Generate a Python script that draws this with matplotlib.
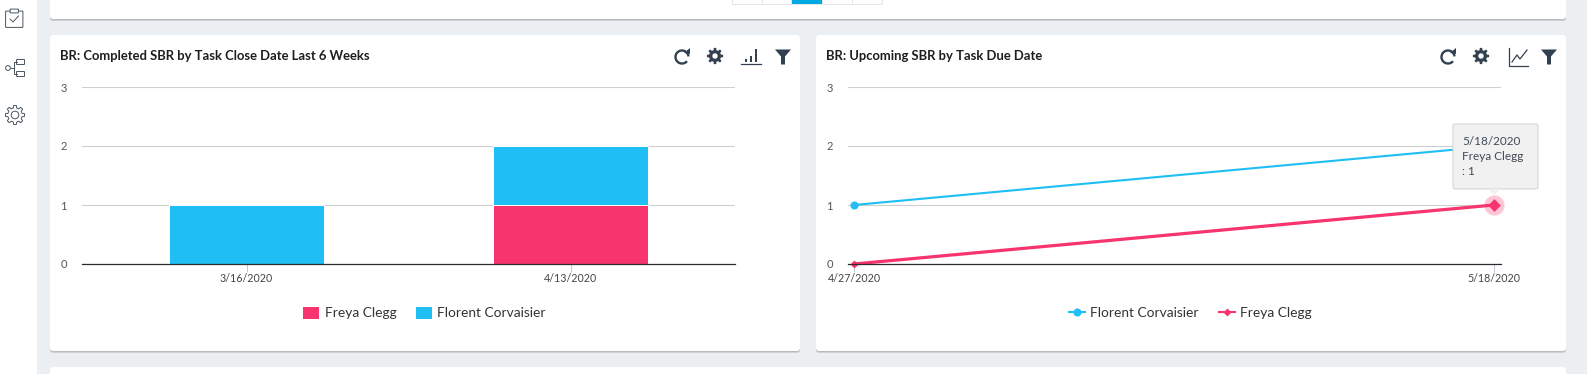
#!/usr/bin/env python3
"""Dashboard screenshot: completed and upcoming SBR cards."""

import matplotlib

matplotlib.use("Agg")
import matplotlib.pyplot as plt
import numpy as np
from matplotlib.lines import Line2D
from matplotlib.patches import Arc, Circle, FancyBboxPatch, Polygon, Rectangle

WIDTH, HEIGHT = 1587, 374
BLUE = "#1FBEF4"
PINK = "#F7346D"
DARK = "#33404F"
SIDE = "#4A5560"
GRID = "#CFCFCF"
PAGE = "#ECEFF2"

BAR_TITLE = "BR: Completed SBR by Task Close Date Last 6 Weeks"
BAR_DATES = ["3/16/2020", "4/13/2020"]
BAR_FREYA = [0, 1]
BAR_FLORENT = [1, 1]

LINE_TITLE = "BR: Upcoming SBR by Task Due Date"
LINE_DATES = ["4/27/2020", "5/18/2020"]
LINE_FLORENT = [1, 2]
LINE_FREYA = [0, 1]

Y_TICKS = [0, 1, 2, 3]
TOOLTIP_LINES = ["5/18/2020", "Freya Clegg", ": 1"]

plt.rcParams["font.family"] = ["Lato", "DejaVu Sans"]


def px_axes(figure, left, top, right, bottom, **kwargs):
    return figure.add_axes(
        [
            left / WIDTH,
            1 - bottom / HEIGHT,
            (right - left) / WIDTH,
            (bottom - top) / HEIGHT,
        ],
        **kwargs,
    )


def card(axis, left, top, right, bottom):
    for offset, color in ((2.0, "#B9BEC3"), (1.0, "#A9AEB3")):
        axis.add_patch(
            FancyBboxPatch(
                (left + 3, top + 3 + offset),
                right - left - 6,
                bottom - top - 6,
                boxstyle="round,pad=3",
                fc=color,
                ec="none",
                alpha=0.6,
            )
        )
    axis.add_patch(
        FancyBboxPatch(
            (left + 3, top + 3),
            right - left - 6,
            bottom - top - 6,
            boxstyle="round,pad=3",
            fc="white",
            ec="none",
        )
    )


def refresh_icon(axis, x, y):
    axis.add_patch(
        Arc((x, y), 13, 13, theta1=-320, theta2=-5, ec=DARK, lw=1.7)
    )
    axis.add_patch(
        Polygon(
            [(x + 2, y - 4), (x + 8, y - 9), (x + 8, y - 3)], fc=DARK, ec="none"
        )
    )


def gear_points(x, y, inner, outer, teeth=8):
    points = []
    step = 2 * np.pi / teeth
    for index in range(teeth):
        mid = index * step
        for angle, radius in (
            (mid - 0.31 * step, inner),
            (mid - 0.18 * step, outer),
            (mid + 0.18 * step, outer),
            (mid + 0.31 * step, inner),
        ):
            points.append((x + radius * np.cos(angle), y + radius * np.sin(angle)))
    return points


def gear_icon(axis, x, y):
    axis.add_patch(Polygon(gear_points(x, y, 6.0, 8.2), fc=DARK, ec="none"))
    axis.add_patch(Circle((x, y), 2.7, fc="white", ec="none"))


def side_gear_icon(axis, x, y):
    axis.add_patch(Polygon(gear_points(x, y, 7.2, 9.6), fc="none", ec=SIDE, lw=0.7))
    axis.add_patch(Circle((x, y), 3.8, fc="none", ec=SIDE, lw=0.7))


def filter_icon(axis, x, y):
    axis.add_patch(
        Polygon(
            [
                (x - 8, y - 7),
                (x + 8, y - 7),
                (x + 2, y),
                (x + 2, y + 8),
                (x - 2, y + 8),
                (x - 2, y),
            ],
            fc=DARK,
            ec="none",
        )
    )


def bars_icon(axis, x, y):
    axis.add_line(Line2D([x - 10, x + 10], [y + 7, y + 7], color=DARK, lw=0.9))
    for dx, height in ((-5, 3), (0, 6), (5, 13)):
        axis.add_patch(Rectangle((x + dx - 1, y + 5 - height), 2, height, fc=DARK))


def line_icon(axis, x, y):
    axis.add_line(
        Line2D(
            [x - 9, x - 9, x + 10], [y - 9, y + 9, y + 9], color=DARK, lw=0.9
        )
    )
    axis.add_line(
        Line2D(
            [x - 6, x - 1, x + 2, x + 9],
            [y + 5, y - 2, y + 2, y - 7],
            color=DARK,
            lw=0.9,
        )
    )


def style_axis(axis, xticks, xlabels):
    axis.set_ylim(0, 3)
    axis.set_yticks(Y_TICKS)
    axis.set_xticks(xticks)
    axis.set_xticklabels(xlabels)
    axis.grid(axis="y", color=GRID, lw=0.8)
    axis.set_axisbelow(True)
    axis.patch.set_alpha(0)
    for side in ("top", "left", "right"):
        axis.spines[side].set_visible(False)
    axis.spines["bottom"].set_color("#2B2B2B")
    axis.spines["bottom"].set_linewidth(0.9)
    axis.tick_params(axis="y", length=0, pad=11, labelsize=8, labelcolor="#555555")
    axis.tick_params(
        axis="x",
        length=6,
        width=0.7,
        color="#C0CBD6",
        pad=0.8,
        labelsize=7.7,
        labelcolor="#444444",
    )


figure = plt.figure(figsize=(WIDTH / 100, HEIGHT / 100), dpi=100, facecolor=PAGE)

back = px_axes(figure, 0, 0, WIDTH, HEIGHT, zorder=0)
back.set_xlim(0, WIDTH)
back.set_ylim(HEIGHT, 0)
back.axis("off")
back.add_patch(Rectangle((0, 0), 37, HEIGHT, fc="white", ec="none"))
card(back, 50, -20, 1566, 19)
card(back, 50, 35, 800, 351)
card(back, 816, 35, 1566, 351)
card(back, 50, 367, 1566, 420)

# pagination strip on the card above
page_edges = [732, 762, 791, 822, 852, 882]
for start, end in zip(page_edges[:-1], page_edges[1:]):
    active = start == 791
    back.add_patch(
        Rectangle(
            (start, -2),
            end - start,
            5.5,
            fc="#00A9E0" if active else "white",
            ec="#E4E7EA",
            lw=0.7,
        )
    )

# sidebar icons
back.add_patch(
    FancyBboxPatch(
        (6, 11.5), 16.5, 15.5, boxstyle="round,pad=0.4", fc="none", ec=SIDE, lw=0.7
    )
)
back.add_patch(
    FancyBboxPatch(
        (10.5, 9.5), 7.5, 3, boxstyle="round,pad=0.4", fc="white", ec=SIDE, lw=0.7
    )
)
back.add_line(Line2D([10, 13, 18.5], [19, 22, 16], color=SIDE, lw=0.7))
back.add_patch(Circle((8, 68), 2.4, fc="none", ec=SIDE, lw=0.7))
for y in (62, 74):
    back.add_patch(
        FancyBboxPatch(
            (17, y - 2), 7, 4, boxstyle="round,pad=0.5", fc="none", ec=SIDE, lw=0.7
        )
    )
back.add_line(
    Line2D([10.5, 14, 14, 17], [68, 68, 62, 62], color=SIDE, lw=0.7)
)
back.add_line(Line2D([14, 14, 17], [68, 74, 74], color=SIDE, lw=0.7))
side_gear_icon(back, 15, 115)

back.text(60, 56, BAR_TITLE, fontsize=9.35, fontweight="bold", color="#1E1E1E", va="center")
back.text(826, 56, LINE_TITLE, fontsize=9.35, fontweight="bold", color="#1E1E1E", va="center")
for x_refresh, x_gear, x_filter in ((682, 715, 783), (1448, 1481, 1549)):
    refresh_icon(back, x_refresh, 57)
    gear_icon(back, x_gear, 56)
    filter_icon(back, x_filter, 56.5)
bars_icon(back, 751, 57)
line_icon(back, 1518, 57)

# bar card
bar_axis = px_axes(figure, 82, 87, 735, 264, zorder=2)
bar_x = np.arange(len(BAR_DATES))
bar_axis.bar(bar_x, BAR_FREYA, width=0.478, color=PINK, edgecolor="white", lw=0.7)
bar_axis.bar(
    bar_x,
    BAR_FLORENT,
    width=0.478,
    bottom=BAR_FREYA,
    color=BLUE,
    edgecolor="white",
    lw=0.7,
)
bar_span = 324
bar_axis.set_xlim(-164.5 / bar_span, 1 + 164.5 / bar_span)
style_axis(bar_axis, bar_x, BAR_DATES)
bar_handles = [
    Rectangle((0, 0), 1, 1, fc=PINK, label="Freya Clegg"),
    Rectangle((0, 0), 1, 1, fc=BLUE, label="Florent Corvaisier"),
]
bar_axis.legend(
    handles=bar_handles,
    ncol=2,
    loc="center",
    bbox_to_anchor=(424.5 / WIDTH, 1 - 313 / HEIGHT),
    bbox_transform=figure.transFigure,
    frameon=False,
    fontsize=9.9,
    handlelength=1.17,
    handleheight=1.0,
    handletextpad=0.4,
    columnspacing=1.38,
    labelcolor="#333333",
)

# line card
line_axis = px_axes(figure, 848, 87, 1501, 264, zorder=2)
line_x = np.arange(len(LINE_DATES))
span = 1494 - 854
line_axis.set_xlim(-6 / span, 1 + 7 / span)
line_axis.plot(
    line_x,
    LINE_FLORENT,
    color=BLUE,
    lw=1.5,
    marker="o",
    ms=5.8,
    mec="none",
    label="Florent Corvaisier",
    clip_on=False,
)
line_axis.plot(
    line_x,
    LINE_FREYA,
    color=PINK,
    lw=2.3,
    marker="D",
    ms=4.2,
    mec="none",
    label="Freya Clegg",
    clip_on=False,
)
line_axis.scatter(
    line_x[-1], LINE_FREYA[-1], s=210, color="#FFC6D6", lw=0, zorder=1.5, clip_on=False
)
line_axis.scatter(
    line_x[-1], LINE_FREYA[-1], s=42, marker="D", color=PINK, lw=0, zorder=4, clip_on=False
)
style_axis(line_axis, line_x, LINE_DATES)
legend_handles = [
    Line2D([], [], color=BLUE, lw=1.5, marker="o", ms=5.8, mec="none"),
    Line2D([], [], color=PINK, lw=1.5, marker="D", ms=4.2, mec="none"),
]
line_axis.legend(
    legend_handles,
    ["Florent Corvaisier", "Freya Clegg"],
    ncol=2,
    loc="center",
    bbox_to_anchor=(1190.5 / WIDTH, 1 - 313 / HEIGHT),
    bbox_transform=figure.transFigure,
    frameon=False,
    fontsize=9.9,
    handlelength=1.17,
    handletextpad=0.4,
    columnspacing=1.45,
    labelcolor="#333333",
)

# hover tooltip
front = px_axes(figure, 0, 0, WIDTH, HEIGHT, zorder=5)
front.set_xlim(0, WIDTH)
front.set_ylim(HEIGHT, 0)
front.axis("off")
front.patch.set_alpha(0)
front.add_patch(
    FancyBboxPatch(
        (1455, 126),
        81,
        61,
        boxstyle="round,pad=2",
        fc="#F1F1F1",
        ec="#D6D6D6",
        lw=0.8,
    )
)
front.add_patch(Polygon([(1488, 189), (1500, 189), (1494, 195)], fc="#F1F1F1", ec="none"))
for y, line in zip((141, 156, 171), TOOLTIP_LINES):
    front.text(1462.5, y, line, fontsize=8.5, color="#3F4A57", va="center")

figure.savefig("out.png", dpi=100, facecolor=PAGE)
